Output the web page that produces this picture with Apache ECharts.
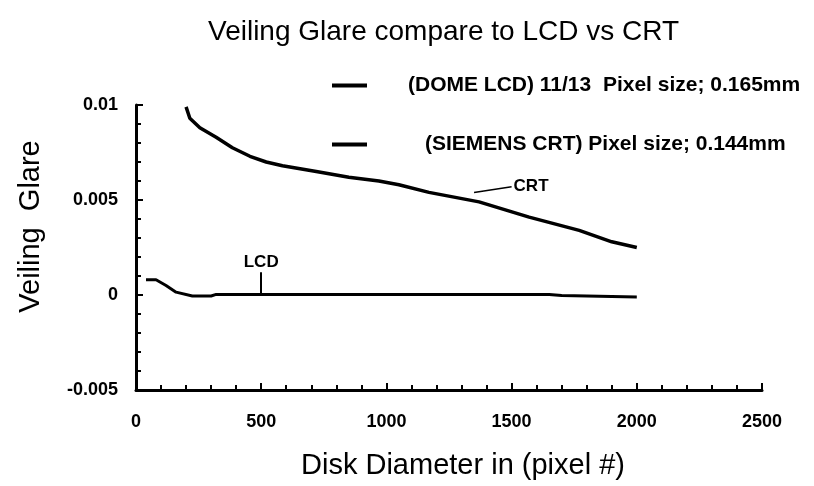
<!DOCTYPE html>
<html>
<head>
    <meta charset="UTF-8" />
    <title>Veiling Glare</title>
    <script type="text/javascript" src="https://cdn.jsdelivr.net/npm/echarts@6/dist/echarts.min.js"></script>
</head>
<body style="margin:0;background:#fff;">

<div id="main" style="width: 814px;height: 486px;"></div>

<script>
    // CRT curve
    var crtX = [200, 215, 255, 320, 385, 455, 520, 585, 720, 850, 970, 1050, 1170, 1370, 1570, 1770, 1900, 2000];
    var crtY = [0.0099, 0.0093, 0.0088, 0.0083, 0.00775, 0.0073, 0.0070, 0.0068, 0.0065, 0.0062, 0.0060, 0.0058, 0.0054, 0.0049, 0.0041, 0.0034, 0.0028, 0.0025];

    // LCD curve
    var lcdX = [40, 80, 120, 160, 225, 300, 320, 500, 1000, 1650, 1700, 2000];
    var lcdY = [0.0008, 0.0008, 0.0005, 0.00015, -0.00005, -0.00005, 0.00003, 0.00003, 0.00003, 0.00003, -0.00003, -0.0001];

    var lcdName = '(DOME LCD) 11/13  Pixel size; 0.165mm';
    var crtName = '(SIEMENS CRT) Pixel size; 0.144mm';

    function pairs(xs, ys) {
        return xs.map(function (x, i) { return [x, ys[i]]; });
    }

    var font = 'Arial, "Liberation Sans", sans-serif';
    var boldText = { fontFamily: font, fontWeight: 'bold', fontSize: 18, color: '#000' };

    var mychart = echarts.init(document.getElementById('main'));

    var option = {
        animation: false,
        backgroundColor: '#fff',
        title: {
            text: 'Veiling Glare compare to LCD vs CRT',
            left: 203,
            top: 13,
            textStyle: { fontFamily: font, fontWeight: 'normal', fontSize: 28, color: '#000' }
        },
        legend: [{
            data: [lcdName],
            left: 327,
            top: 70,
            icon: 'rect',
            itemWidth: 35,
            itemHeight: 4,
            textStyle: { fontFamily: font, fontWeight: 'bold', fontSize: 21, color: '#000', padding: [0, 0, 0, 36] }
        }, {
            data: [crtName],
            left: 327,
            top: 129,
            icon: 'rect',
            itemWidth: 35,
            itemHeight: 4,
            textStyle: { fontFamily: font, fontWeight: 'bold', fontSize: 21, color: '#000', padding: [0, 0, 0, 53] }
        }],
        grid: { left: 136, right: 52, top: 105, bottom: 96, outerBoundsMode: 'none' },
        xAxis: {
            type: 'value',
            min: 0,
            max: 2500,
            interval: 500,
            name: 'Disk Diameter in (pixel #)',
            nameLocation: 'middle',
            nameGap: 61,
            nameTextStyle: { fontFamily: font, fontSize: 29, color: '#000', padding: [0, 0, 0, 28] },
            axisLine: { onZero: false, lineStyle: { color: '#000', width: 3 } },
            axisTick: { inside: true, length: 7, lineStyle: { color: '#000', width: 2 } },
            minorTick: { show: true, splitNumber: 5, length: 5, lineStyle: { color: '#000', width: 2 } },
            axisLabel: Object.assign({ margin: 23, formatter: function (v) { return String(v); } }, boldText),
            splitLine: { show: false }
        },
        yAxis: {
            type: 'value',
            min: -0.005,
            max: 0.01,
            interval: 0.005,
            name: 'Veiling  Glare',
            nameLocation: 'middle',
            nameGap: 91,
            nameTextStyle: { fontFamily: font, fontSize: 29, color: '#000', padding: [0, 0, 0, 42] },
            axisLine: { onZero: false, lineStyle: { color: '#000', width: 3 } },
            axisTick: { inside: true, length: 7, lineStyle: { color: '#000', width: 2 } },
            minorTick: { show: true, splitNumber: 5, length: 5, lineStyle: { color: '#000', width: 2 } },
            axisLabel: Object.assign({ margin: 18, formatter: function (v) { return String(+v.toFixed(4)); } }, boldText),
            splitLine: { show: false }
        },
        series: [{
            name: lcdName,
            type: 'line',
            data: pairs(lcdX, lcdY),
            showSymbol: false,
            itemStyle: { color: '#000' },
            lineStyle: { color: '#000', width: 3 },
            markLine: {
                silent: true,
                symbol: 'none',
                lineStyle: { color: '#000', width: 2, type: 'solid' },
                label: { show: true, position: 'end', formatter: 'LCD', distance: 1, fontFamily: font, fontWeight: 'bold', fontSize: 17, color: '#000' },
                data: [[{ coord: [500, 0.00003] }, { coord: [500, 0.0012] }]]
            }
        }, {
            name: crtName,
            type: 'line',
            data: pairs(crtX, crtY),
            showSymbol: false,
            itemStyle: { color: '#000' },
            lineStyle: { color: '#000', width: 3.5 },
            markLine: {
                silent: true,
                symbol: 'none',
                lineStyle: { color: '#000', width: 1.5, type: 'solid' },
                label: { show: true, position: 'end', formatter: 'CRT', distance: 2, fontFamily: font, fontWeight: 'bold', fontSize: 17, color: '#000' },
                data: [[{ coord: [1350, 0.0054] }, { coord: [1500, 0.0057] }]]
            }
        }]
    };

    mychart.setOption(option);
</script>

</body>
</html>
